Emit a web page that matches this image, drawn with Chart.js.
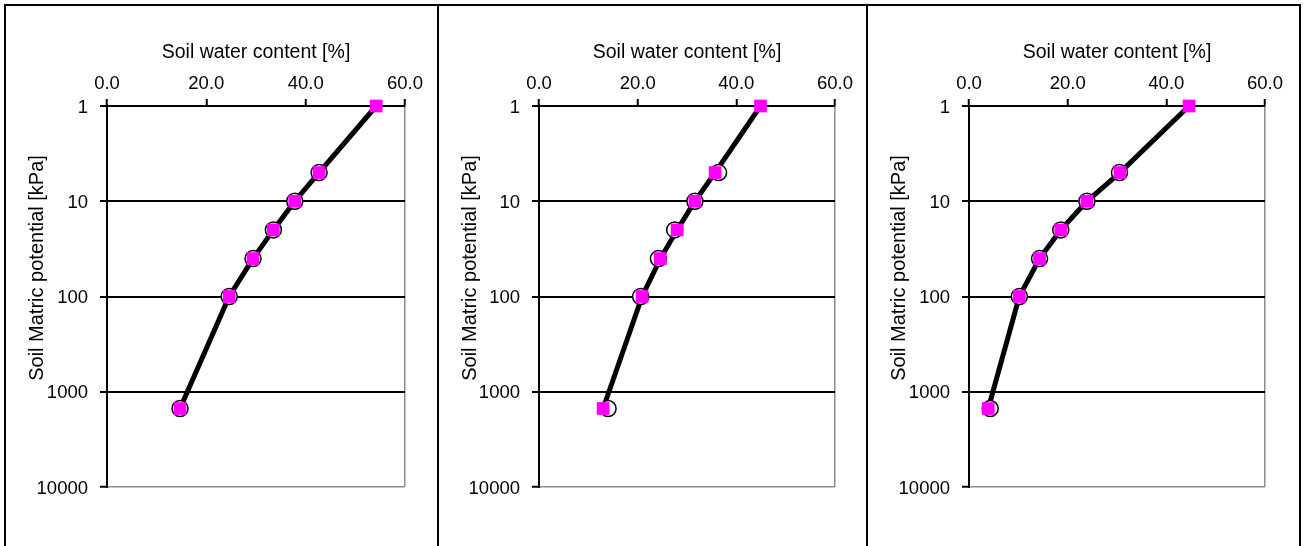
<!DOCTYPE html>
<html>
<head>
<meta charset="utf-8">
<script src="https://cdn.jsdelivr.net/npm/chart.js@4.4.0/dist/chart.umd.min.js"></script>
<style>
  html, body { margin: 0; padding: 0; background: #fff; width: 1304px; height: 546px; overflow: hidden; }
  .panel { position: absolute; top: 4px; height: 600px; border: 2px solid #000; box-sizing: border-box; }
  .panel canvas { position: absolute; left: 0; top: 0; }
</style>
</head>
<body>
<div class="panel" style="left:4px;width:435px"><canvas id="c1" width="431" height="540"></canvas></div>
<div class="panel" style="left:437px;width:431px"><canvas id="c2" width="427" height="540"></canvas></div>
<div class="panel" style="left:866px;width:435px"><canvas id="c3" width="431" height="540"></canvas></div>
<script>
// suction steps [kPa]
const fitSuction = [1, 5, 10, 20, 40, 100, 1500];
const measSuction = [5, 10, 20, 40, 100, 1500];

// soil water content [%]: fitted curve (squares + line) and measured (circles)
const fit1 = [54.2, 42.7, 37.8, 33.5, 29.4, 24.6, 14.7];
const meas1 = [42.7, 37.8, 33.5, 29.4, 24.6, 14.7];
const fit2 = [44.9, 35.7, 31.6, 28.0, 24.6, 20.9, 13.0];
const meas2 = [36.4, 31.6, 27.5, 24.2, 20.6, 14.0];
const fit3 = [44.6, 30.6, 23.9, 18.6, 14.3, 10.2, 3.9];
const meas3 = [30.5, 23.9, 18.6, 14.3, 10.2, 4.3];

const xTicks = [0, 20, 40, 60];
const yTicks = [1, 10, 100, 1000, 10000];

const FAMILY = "'Liberation Sans', Arial, sans-serif";
const TICK_FONT = { family: FAMILY, size: 18.5 };
const XTITLE_FONT = { family: FAMILY, size: 19.5 };
const GRAY = '#8c8c8c';

// vertical axis title, placed a bit above the middle like the original
const yTitlePlugin = {
  id: 'yTitle',
  afterDraw(chart, args, opts) {
    const ctx = chart.ctx;
    ctx.save();
    ctx.translate(opts.x, opts.y);
    ctx.rotate(-Math.PI / 2);
    ctx.font = '20px ' + FAMILY;
    ctx.fillStyle = '#000';
    ctx.textAlign = 'center';
    ctx.textBaseline = 'middle';
    ctx.fillText(opts.text, 0, 0);
    ctx.restore();
  }
};

function pts(xs, ys) {
  return xs.map((x, i) => ({ x: x, y: ys[i] }));
}

function makePanel(id, fit, meas, yAxisWidth, padRight) {
  new Chart(document.getElementById(id), {
    type: 'scatter',
    plugins: [yTitlePlugin],
    data: {
      datasets: [
        {
          data: pts(fit, fitSuction), showLine: true, borderColor: '#000', borderWidth: 5,
          pointRadius: 0, order: 3, clip: false
        },
        {
          data: pts(meas, measSuction), showLine: false, pointStyle: 'circle', pointRadius: 8,
          backgroundColor: '#fff', borderColor: '#000', borderWidth: 1.5, order: 2, clip: false
        },
        {
          data: pts(fit, fitSuction), showLine: false, pointStyle: 'rect', pointRadius: 9,
          backgroundColor: '#ff00ff', borderWidth: 0, order: 1, clip: false
        }
      ]
    },
    options: {
      responsive: false,
      animation: false,
      layout: { padding: { left: 0, top: 0, right: padRight, bottom: 59 } },
      plugins: {
        legend: { display: false },
        tooltip: { enabled: false },
        yTitle: { text: 'Soil Matric potential [kPa]', x: 31, y: 262 }
      },
      scales: {
        x: {
          type: 'linear', position: 'top', min: 0, max: 60,
          afterBuildTicks: s => { s.ticks = xTicks.map(v => ({ value: v })); },
          afterFit: s => { s.height = 100; },
          ticks: { font: TICK_FONT, color: '#000', padding: 4, maxRotation: 0, callback: v => v.toFixed(1) },
          grid: {
            color: c => (c.tick && c.tick.value === 60) ? GRAY : 'rgba(0,0,0,0)',
            lineWidth: 1.5, tickColor: '#000', tickLength: 7, tickWidth: 2
          },
          border: { color: '#000', width: 2 },
          title: { display: true, text: 'Soil water content [%]', font: XTITLE_FONT, color: '#000', padding: { top: 35, bottom: 0 } }
        },
        y: {
          type: 'logarithmic', reverse: true, min: 1, max: 10000,
          afterBuildTicks: s => { s.ticks = yTicks.map(v => ({ value: v, major: true })); },
          afterFit: s => { s.width = yAxisWidth; },
          ticks: { font: TICK_FONT, color: '#000', padding: 12, labelOffset: 1.5, callback: v => String(v) },
          grid: {
            color: c => (c.tick && c.tick.value === 10000) ? GRAY : '#000',
            lineWidth: c => (c.tick && c.tick.value === 10000) ? 1.5 : 2,
            tickColor: '#000', tickLength: 7, tickWidth: 2
          },
          border: { color: '#000', width: 2 },
          title: { display: false }
        }
      }
    }
  });
}

makePanel('c1', fit1, meas1, 101, 32);
makePanel('c2', fit2, meas2, 100, 31);
makePanel('c3', fit3, meas3, 101, 34);
</script>
</body>
</html>
